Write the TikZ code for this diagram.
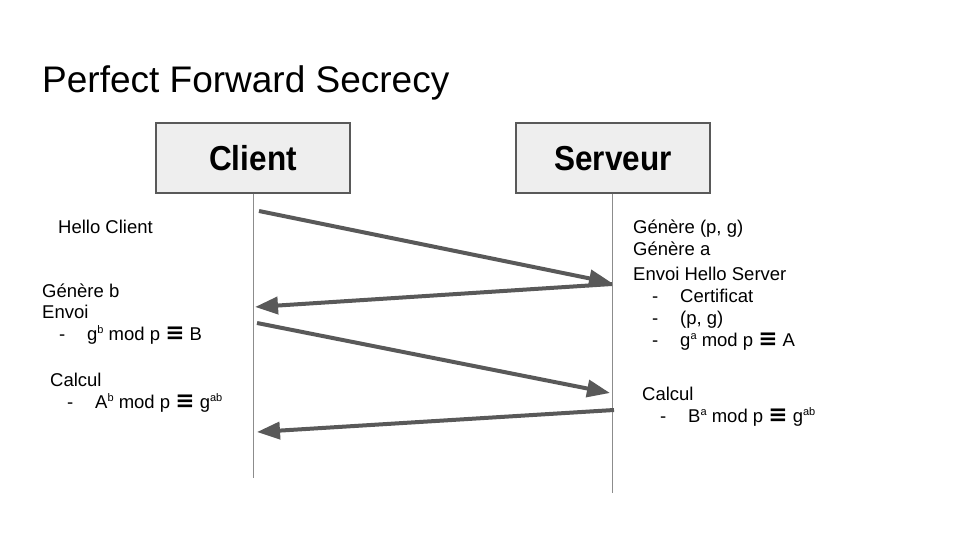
\documentclass[tikz,border=0pt]{standalone}
\usepackage{fontspec}
\setmainfont{Liberation Sans}
\newfontfamily\symfont{DejaVu Sans}
\usetikzlibrary{arrows.meta}
\definecolor{arrowgray}{HTML}{595959}
\definecolor{boxfill}{HTML}{EEEEEE}
\definecolor{boxline}{HTML}{595959}
\definecolor{lifegray}{HTML}{8C8C8C}
\newcommand{\eqv}{{\symfont\bfseries\fontsize{23}{23}\selectfont ≡}}
\newcommand{\sups}[1]{\raisebox{7pt}{\fontsize{11}{11}\selectfont #1}}
\newcommand{\dashitem}[1]{\makebox[28pt][l]{-}#1}
\newcommand{\tall}[1]{\scalebox{1}[1.1]{#1}}
\tikzset{
  actor/.style={draw=boxline, line width=1.2pt, fill=boxfill, minimum width=194pt, minimum height=70pt, inner sep=0pt, text height=26pt, text depth=0pt, font=\fontsize{31.5}{36}\selectfont\bfseries},
  msg/.style={draw=arrowgray, line width=4pt, -{Triangle[length=23pt,width=17pt,fill=arrowgray]}},
  life/.style={draw=lifegray, line width=0.9pt},
  note/.style={anchor=base west, inner sep=0pt, font=\fontsize{18.5}{22}\selectfont},
}
\begin{document}
\begin{tikzpicture}[x=1pt,y=-1pt]
\useasboundingbox (0,0) rectangle (960,540);
% title
\node[anchor=base west, inner sep=0pt, font=\fontsize{37}{44}\selectfont] (title) at (42,93) {Perfect Forward Secrecy};
% actors and lifelines
\node[actor] (client) at (253,158) {\tall{Client}};
\node[actor] (server) at (613,158) {\tall{Serveur}};
\coordinate (clientend) at (253,478);
\coordinate (serverend) at (612,493);
\draw[life] (client.south) -- (clientend);
\draw[life] (server.south -| serverend) -- (serverend);
% messages
\coordinate (m1s) at (259,211);
\coordinate (m1e) at (612,283);
\coordinate (m2s) at (612,284);
\coordinate (m2e) at (255,307);
\coordinate (m3s) at (257,323);
\coordinate (m3e) at (610,393);
\coordinate (m4s) at (614,410);
\coordinate (m4e) at (257,432);
\draw[msg] (m1s) -- (m1e);
\draw[msg] (m2s) -- (m2e);
\draw[msg] (m3s) -- (m3e);
\draw[msg] (m4s) -- (m4e);
% client side notes
\node[note] (hello) at (58,233) {Hello Client};
\node[note] (genb) at (42,297) {Génère b};
\node[note] (envoib) at (42,318) {Envoi};
\node[note] (sendb) at (59,340) {\dashitem{g\sups{b} mod p \eqv\ B}};
\node[note] (calcc) at (50,386) {Calcul};
\node[note] (keyc) at (67,408) {\dashitem{A\sups{b} mod p \eqv\ g\sups{ab}}};
% server side notes
\node[note] (genpg) at (633,233) {Génère (p, g)};
\node[note] (gena) at (633,255) {Génère a};
\node[note] (envoia) at (633,280) {Envoi Hello Server};
\node[note] (cert) at (652,302) {\dashitem{Certificat}};
\node[note] (sendpg) at (652,324) {\dashitem{(p, g)}};
\node[note] (senda) at (652,346) {\dashitem{g\sups{a} mod p \eqv\ A}};
\node[note] (calcs) at (642,400) {Calcul};
\node[note] (keys) at (660,422) {\dashitem{B\sups{a} mod p \eqv\ g\sups{ab}}};
\end{tikzpicture}
\end{document}
